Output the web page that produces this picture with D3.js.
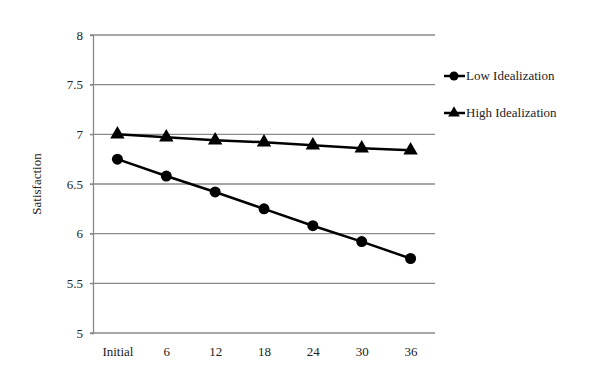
<!DOCTYPE html>
<html>
<head>
<meta charset="utf-8">
<script src="https://cdn.jsdelivr.net/npm/d3@7"></script>
<style>
  body { margin: 0; background: #fff; }
  text { font-family: "Liberation Serif", "Times New Roman", serif; fill: #222; }
</style>
</head>
<body>
<svg id="chart"></svg>
<script>
// Chart data
const categories = ["Initial", "6", "12", "18", "24", "30", "36"];
const lowIdealization = [6.75, 6.58, 6.42, 6.25, 6.08, 5.92, 5.75];
const highIdealization = [7.0, 6.97, 6.94, 6.92, 6.89, 6.86, 6.84];
const yTicks = [5, 5.5, 6, 6.5, 7, 7.5, 8];
const seriesNames = ["Low Idealization", "High Idealization"];

const width = 600;
const height = 386;
const margin = { top: 35, right: 165, bottom: 53, left: 93 };

const svg = d3.select("#chart")
    .attr("width", width)
    .attr("height", height);

const x = d3.scalePoint()
    .domain(categories)
    .range([margin.left, width - margin.right])
    .padding(0.5);

const y = d3.scaleLinear()
    .domain([5, 8])
    .range([height - margin.bottom, margin.top]);

// Gridlines
svg.append("g")
    .selectAll("line")
    .data(yTicks)
    .join("line")
    .attr("x1", margin.left - 3)
    .attr("x2", width - margin.right)
    .attr("y1", d => y(d))
    .attr("y2", d => y(d))
    .attr("stroke", "#8a8a8a")
    .attr("stroke-width", 1.3);

// Y axis
const yAxis = svg.append("g")
    .attr("transform", `translate(${margin.left},0)`)
    .call(d3.axisLeft(y).tickValues(yTicks).tickSize(3).tickPadding(7).tickFormat(d3.format("")));
yAxis.select(".domain").attr("stroke", "#8a8a8a").attr("stroke-width", 1.3);
yAxis.selectAll(".tick line").attr("stroke", "#8a8a8a");
yAxis.selectAll("text").style("font-size", "13px").attr("fill", "#222");

// X axis
const xAxis = svg.append("g")
    .attr("transform", `translate(0,${height - margin.bottom})`)
    .call(d3.axisBottom(x).tickSize(0).tickPadding(14));
xAxis.select(".domain").remove();
xAxis.selectAll("text").style("font-size", "13px").attr("fill", "#222");

// Y label
svg.append("text")
    .attr("transform", `translate(41,${(margin.top + height - margin.bottom) / 2}) rotate(-90)`)
    .attr("text-anchor", "middle")
    .style("font-size", "13px")
    .text("Satisfaction");

const line = d3.line()
    .x((d, i) => x(categories[i]))
    .y(d => y(d));

const triangle = d3.symbol().type(d3.symbolTriangle).size(90);

// Low idealization
svg.append("path")
    .datum(lowIdealization)
    .attr("fill", "none")
    .attr("stroke", "#000")
    .attr("stroke-width", 2.5)
    .attr("d", line);
svg.append("g")
    .selectAll("circle")
    .data(lowIdealization)
    .join("circle")
    .attr("cx", (d, i) => x(categories[i]))
    .attr("cy", d => y(d))
    .attr("r", 5.5)
    .attr("fill", "#000");

// High idealization
svg.append("path")
    .datum(highIdealization)
    .attr("fill", "none")
    .attr("stroke", "#000")
    .attr("stroke-width", 2.5)
    .attr("d", line);
svg.append("g")
    .selectAll("path")
    .data(highIdealization)
    .join("path")
    .attr("transform", (d, i) => `translate(${x(categories[i])},${y(d)})`)
    .attr("d", triangle)
    .attr("fill", "#000");

// Legend
const legend = svg.append("g").attr("transform", "translate(444,0)");
[76, 113].forEach((ly, i) => {
    legend.append("line")
        .attr("x1", 0).attr("x2", 21)
        .attr("y1", ly).attr("y2", ly)
        .attr("stroke", "#000").attr("stroke-width", 2.5);
    if (i === 0) {
        legend.append("circle").attr("cx", 10).attr("cy", ly).attr("r", 4.5).attr("fill", "#000");
    } else {
        legend.append("path")
            .attr("transform", `translate(10,${ly})`)
            .attr("d", d3.symbol().type(d3.symbolTriangle).size(60))
            .attr("fill", "#000");
    }
    legend.append("text")
        .attr("x", 22)
        .attr("y", ly + 4)
        .style("font-size", "13px")
        .text(seriesNames[i]);
});
</script>
</body>
</html>
